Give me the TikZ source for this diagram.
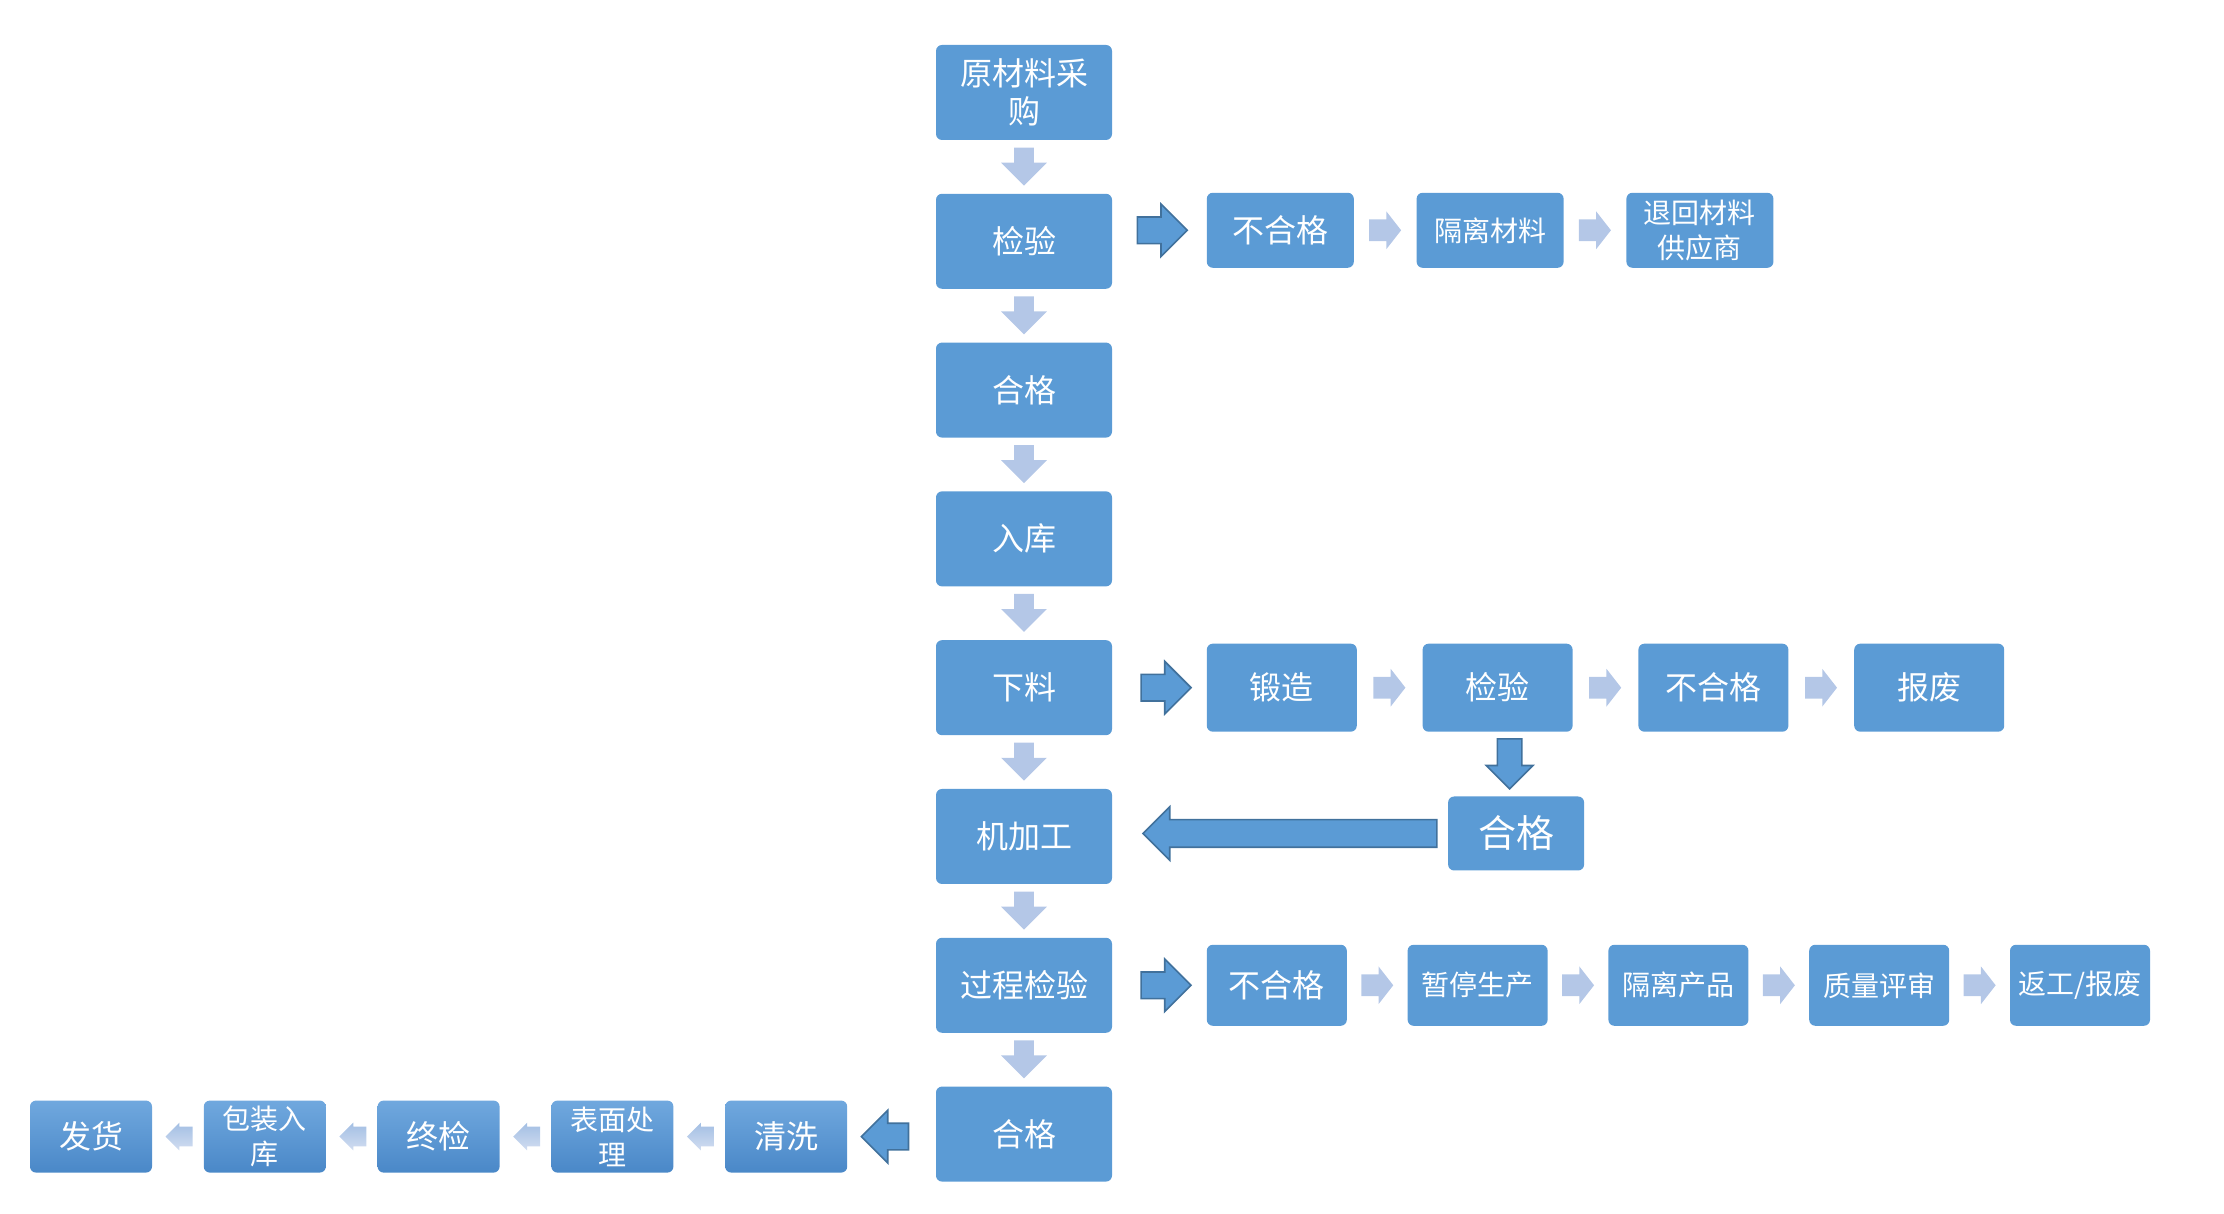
\documentclass[tikz,border=0pt]{standalone}
\usepackage{fontspec}
\setmainfont{Noto Sans CJK SC}
\usetikzlibrary{shapes.arrows,positioning}
\definecolor{boxblue}{HTML}{5B9BD5}
\definecolor{edgeblue}{HTML}{41719C}
\definecolor{paleblue}{HTML}{B4C7E7}
\definecolor{gradtop}{HTML}{70A8DE}
\definecolor{gradbot}{HTML}{4A88C8}

\begin{document}
\begin{tikzpicture}[node distance=26.5pt and 31pt,
    stage/.style={fill=boxblue,rounded corners=3pt,text=white,align=center,inner sep=1pt,
      minimum width=88pt,minimum height=47.5pt,font=\fontsize{16}{19}\selectfont},
    side/.style={stage,minimum width=73.5pt,minimum height=37.5pt},
    sidetwo/.style={stage,minimum width=75pt,minimum height=44pt},
    sidethree/.style={stage,minimum width=70pt,minimum height=40.5pt},
    tail/.style={stage,fill=none,top color=gradtop,bottom color=gradbot,minimum width=61pt,minimum height=36pt},
    small/.style={font=\fontsize{14}{17.5}\selectfont},
    flow/.style={single arrow,sloped,allow upside down,inner xsep=0pt,single arrow tip angle=90},
    arrdown/.style={flow,fill=paleblue,minimum height=19pt,inner ysep=4.75pt,single arrow head extend=6.5pt},
    arrbig/.style={flow,fill=boxblue,draw=edgeblue,line width=0.8pt,minimum height=25pt,inner ysep=6.25pt,single arrow head extend=6.5pt},
    arrlong/.style={arrbig,minimum height=147pt,inner ysep=6.5pt,single arrow head extend=6.5pt},
    arrpale/.style={flow,fill=paleblue,minimum height=16pt,inner ysep=5.25pt,single arrow head extend=4pt,single arrow tip angle=104},
    arrtiny/.style={flow,top color=paleblue!80!boxblue,bottom color=paleblue!60,minimum height=13.5pt,inner ysep=4.75pt,single arrow head extend=2pt}]
\useasboundingbox (0,0) rectangle (1112pt,607pt);

% main column
\node[stage] (purchase) at (512pt,560.75pt) {原材料采\\购};
\node[stage,below=of purchase] (inspect) {检验};
\node[stage,below=of inspect] (pass) {合格};
\node[stage,below=of pass] (store) {入库};
\node[stage,below=of store] (cut) {下料};
\node[stage,below=of cut] (machine) {机加工};
\node[stage,below=of machine] (procinsp) {过程检验};
\node[stage,below=of procinsp] (passfinal) {合格};

% incoming material reject branch
\node[side,right=47pt of inspect,yshift=5.5pt] (reject) {不合格};
\node[side,small,right=of reject] (isolate) {隔离材料};
\node[side,small,right=of isolate] (giveback) {退回材料\\供应商};

% forging branch
\node[sidetwo,right=47pt of cut] (forge) {锻造};
\node[sidetwo,right=32.5pt of forge] (forgeinsp) {检验};
\node[sidetwo,right=32.5pt of forgeinsp] (forgereject) {不合格};
\node[sidetwo,right=32.5pt of forgereject] (scrap) {报废};
\node[stage,minimum width=68pt,minimum height=37pt,font=\fontsize{19}{22}\selectfont,
  below=32pt of forgeinsp,xshift=9.25pt] (forgepass) {合格};

% process reject branch
\node[sidethree,right=47pt of procinsp] (procreject) {不合格};
\node[sidethree,small,right=30pt of procreject] (halt) {暂停生产};
\node[sidethree,small,right=30pt of halt] (quarantine) {隔离产品};
\node[sidethree,small,right=30pt of quarantine] (review) {质量评审};
\node[sidethree,small,right=30pt of review] (rework) {返工/报废};

% finishing row
\node[tail,left=44pt of passfinal,yshift=-1.25pt] (wash) {清洗};
\node[tail,small,left=25.5pt of wash] (surface) {表面处\\理};
\node[tail,left=25.5pt of surface] (finalinsp) {终检};
\node[tail,small,left=25.5pt of finalinsp] (pack) {包装入\\库};
\node[tail,left=25.5pt of pack] (ship) {发货};

% arrows
\foreach \a/\b in {purchase/inspect,inspect/pass,pass/store,store/cut,cut/machine,machine/procinsp,procinsp/passfinal}
  \path (\a.south) -- (\b.north) node[pos=0.4,arrdown]{};
\path (inspect.east |- reject.west) -- (reject.west) node[pos=0.46,arrbig]{};
\path (cut.east) -- (forge.west) node[midway,arrbig]{};
\path (procinsp.east) -- (procreject.west) node[midway,arrbig]{};
\path (passfinal.west |- wash.east) -- (wash.east) node[pos=0.5,arrbig,minimum height=23.5pt]{};
\foreach \a/\b in {reject/isolate,isolate/giveback,forge/forgeinsp,forgeinsp/forgereject,forgereject/scrap,
    procreject/halt,halt/quarantine,quarantine/review,review/rework}
  \path (\a.east) -- (\b.west) node[pos=0.43,arrpale]{};
\path ([xshift=6pt]forgeinsp.south) -- ([xshift=6pt]forgeinsp.south |- forgepass.north) node[pos=0.4,arrbig,inner ysep=5.75pt,single arrow head extend=5.5pt]{};
\path (forgepass.west) -- (forgepass.west -| machine.east) node[pos=0.45,arrlong]{};
\foreach \a/\b in {wash/surface,surface/finalinsp,finalinsp/pack,pack/ship}
  \path (\a.west) -- (\b.east) node[pos=0.38,arrtiny]{};
\end{tikzpicture}
\end{document}
